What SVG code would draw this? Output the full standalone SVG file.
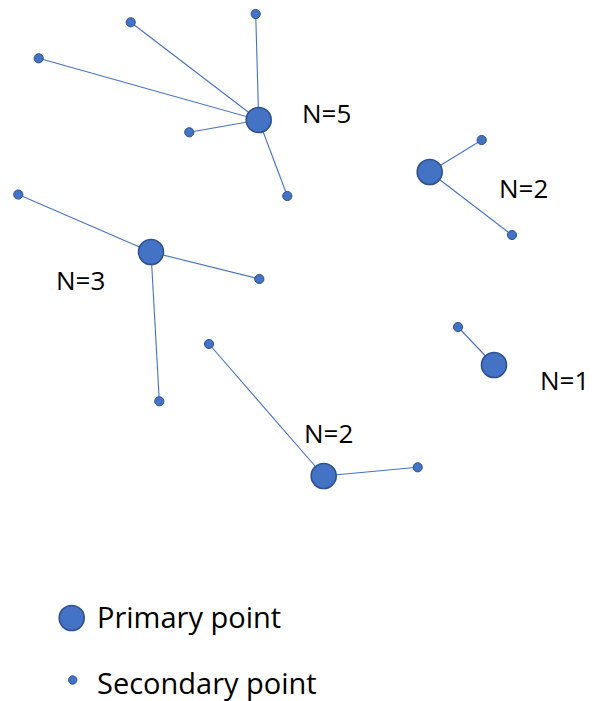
<svg xmlns="http://www.w3.org/2000/svg" width="592" height="701" viewBox="0 0 592 701">
  <style>
    .link { stroke: #4472C4; stroke-width: 1.1; fill: none; }
    .primary { fill: #4472C4; stroke: #2F528F; stroke-width: 1.6; }
    .secondary { fill: #4472C4; stroke: #2F528F; stroke-width: 1; }
    .count { font-family: "Open Sans", "Liberation Sans", sans-serif; font-size: 26px; fill: #000; }
    .legend { font-family: "Open Sans", "Liberation Sans", sans-serif; font-size: 29px; fill: #000; }
  </style>
  <rect width="592" height="701" fill="#fff"/>

  <!-- connectors: each secondary point joined to its primary -->
  <g id="connectors">
    <line class="link" x1="130.7" y1="22.3" x2="258.7" y2="120"/>
    <line class="link" x1="255.7" y1="14" x2="258.7" y2="120"/>
    <line class="link" x1="38.7" y1="58.3" x2="258.7" y2="120"/>
    <line class="link" x1="189.3" y1="132.3" x2="258.7" y2="120"/>
    <line class="link" x1="287.3" y1="196" x2="258.7" y2="120"/>

    <line class="link" x1="18.3" y1="194.5" x2="151" y2="252"/>
    <line class="link" x1="259.3" y1="279" x2="151" y2="252"/>
    <line class="link" x1="159.3" y1="401.3" x2="151" y2="252"/>

    <line class="link" x1="481.7" y1="140" x2="429.7" y2="172"/>
    <line class="link" x1="512" y1="235" x2="429.7" y2="172"/>

    <line class="link" x1="458" y1="327" x2="494" y2="365"/>

    <line class="link" x1="209" y1="344" x2="323.7" y2="476"/>
    <line class="link" x1="417.7" y1="467.3" x2="323.7" y2="476"/>
  </g>

  <!-- cluster with five secondary points -->
  <g id="cluster-n5">
    <circle class="secondary" cx="130.7" cy="22.3" r="4.6"/>
    <circle class="secondary" cx="255.7" cy="14" r="4.6"/>
    <circle class="secondary" cx="38.7" cy="58.3" r="4.6"/>
    <circle class="secondary" cx="189.3" cy="132.3" r="4.6"/>
    <circle class="secondary" cx="287.3" cy="196" r="4.6"/>
    <circle class="primary" cx="258.7" cy="120" r="12.5"/>
    <text class="count" x="302" y="123">N=5</text>
  </g>

  <!-- cluster with three secondary points -->
  <g id="cluster-n3">
    <circle class="secondary" cx="18.3" cy="194.5" r="4.6"/>
    <circle class="secondary" cx="259.3" cy="279" r="4.6"/>
    <circle class="secondary" cx="159.3" cy="401.3" r="4.6"/>
    <circle class="primary" cx="151" cy="252" r="12.5"/>
    <text class="count" x="56" y="290">N=3</text>
  </g>

  <!-- upper-right cluster with two secondary points -->
  <g id="cluster-n2-upper">
    <circle class="secondary" cx="481.7" cy="140" r="4.6"/>
    <circle class="secondary" cx="512" cy="235" r="4.6"/>
    <circle class="primary" cx="429.7" cy="172" r="12.5"/>
    <text class="count" x="499" y="198">N=2</text>
  </g>

  <!-- cluster with one secondary point -->
  <g id="cluster-n1">
    <circle class="secondary" cx="458" cy="327" r="4.6"/>
    <circle class="primary" cx="494" cy="365" r="12.5"/>
    <text class="count" x="540" y="390">N=1</text>
  </g>

  <!-- lower cluster with two secondary points -->
  <g id="cluster-n2-lower">
    <circle class="secondary" cx="209" cy="344" r="4.6"/>
    <circle class="secondary" cx="417.7" cy="467.3" r="4.6"/>
    <circle class="primary" cx="323.7" cy="476" r="12.5"/>
    <text class="count" x="304" y="443">N=2</text>
  </g>

  <!-- legend -->
  <g id="legend-primary">
    <circle class="primary" cx="71.7" cy="618" r="12.5"/>
    <text class="legend" x="97" y="628">Primary point</text>
  </g>
  <g id="legend-secondary">
    <circle class="secondary" cx="72.7" cy="680" r="4.2"/>
    <text class="legend" x="97" y="694">Secondary point</text>
  </g>
</svg>
